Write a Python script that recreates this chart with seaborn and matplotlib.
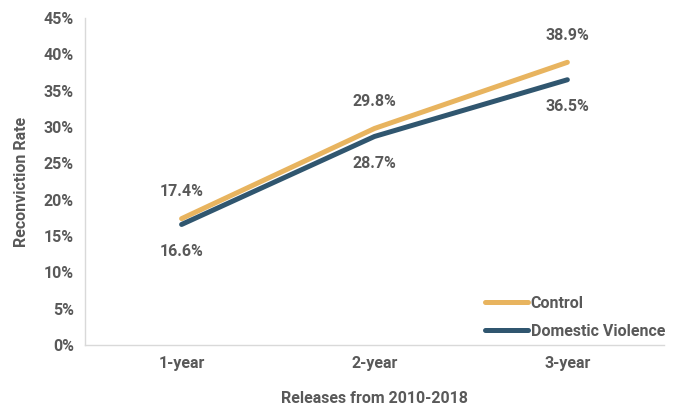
import pandas as pd
import matplotlib.pyplot as plt
import seaborn as sns

periods = ["1-year", "2-year", "3-year"]
control = [17.4, 29.8, 38.9]
domestic = [16.6, 28.7, 36.5]
groups = ["Control", "Domestic Violence"]
colors = ["#E8B45F", "#30566F"]
text_color = "#595959"

df = pd.DataFrame({
    "period": periods * 2,
    "rate": control + domestic,
    "group": [groups[0]] * 3 + [groups[1]] * 3,
})
df["x"] = df["period"].map({p: i for i, p in enumerate(periods)})

sns.set_style("white")
plt.rcParams["font.family"] = ["Roboto", "DejaVu Sans"]
fs = 11.5

fig = plt.figure(figsize=(6.98, 4.08), dpi=100)
ax = fig.add_axes([0.122, 0.154, 0.829, 0.802])

sns.lineplot(data=df, x="x", y="rate", hue="group", palette=colors,
             linewidth=3.6, ax=ax, legend=True)

for i, v in enumerate(control):
    ax.annotate(f"{v}%", (i, v), xytext=(0, 14), textcoords="offset points",
                ha="center", va="bottom", fontsize=fs, fontweight="bold", color=text_color)
for i, v in enumerate(domestic):
    ax.annotate(f"{v}%", (i, v), xytext=(0, -14), textcoords="offset points",
                ha="center", va="top", fontsize=fs, fontweight="bold", color=text_color)

ax.set_xlim(-0.5, 2.5)
ax.set_ylim(0, 45)
ax.set_xticks(range(len(periods)))
ax.set_xticklabels(periods)
ax.set_yticks(range(0, 46, 5))
ax.set_yticklabels([f"{t}%" for t in range(0, 46, 5)])
ax.tick_params(axis="both", length=0, labelsize=fs, labelcolor=text_color, pad=8)
for lab in ax.get_xticklabels() + ax.get_yticklabels():
    lab.set_fontweight("bold")

ax.set_xlabel("Releases from 2010-2018", fontsize=fs, fontweight="bold", color=text_color, labelpad=14)
ax.set_ylabel("Reconviction Rate", fontsize=fs, fontweight="bold", color=text_color, labelpad=11)

for side in ["top", "right"]:
    ax.spines[side].set_visible(False)
for side in ["left", "bottom"]:
    ax.spines[side].set_color("#D9D9D9")
    ax.spines[side].set_linewidth(1)

leg = ax.legend(loc="upper left", frameon=False, fontsize=fs, handlelength=2.7,
                handletextpad=0.15, labelspacing=0.8, borderpad=0, borderaxespad=0,
                bbox_to_anchor=(485 / 698, 1 - 296 / 408), bbox_transform=fig.transFigure)
for t in leg.get_texts():
    t.set_color(text_color)
    t.set_fontweight("bold")

fig.savefig("out.png", dpi=100)
